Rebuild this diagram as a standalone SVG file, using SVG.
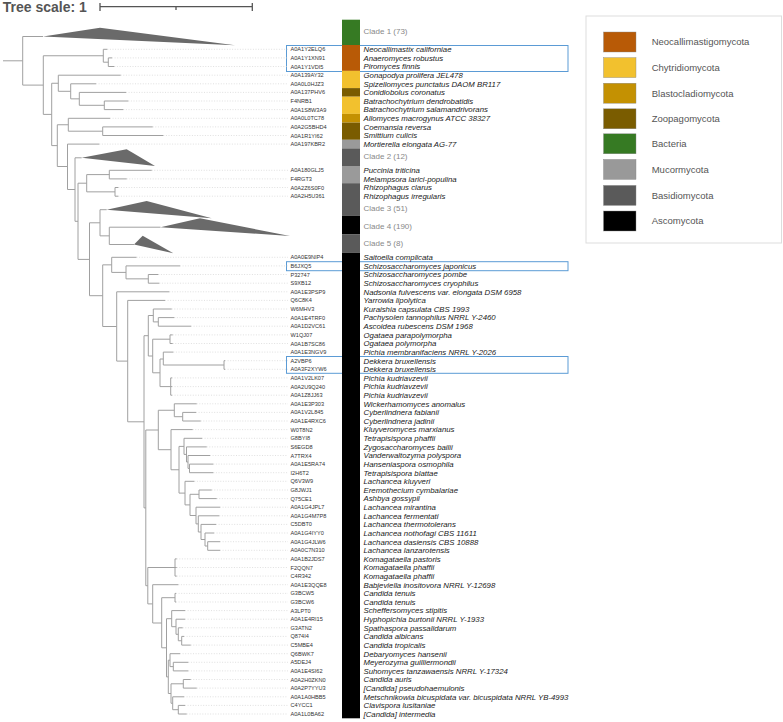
<svg xmlns="http://www.w3.org/2000/svg" width="783" height="722" viewBox="0 0 783 722">
<style>
.t{fill:none;stroke:#a0a0a0;stroke-width:1}
.d{fill:none;stroke:#d2d2d2;stroke-width:0.7;stroke-dasharray:1 1.6}
.tri{fill:#6a6a6a}
.id{font-family:"Liberation Sans",Arial,sans-serif;font-size:5.6px;fill:#333}
.sp{font-family:"Liberation Sans",Arial,sans-serif;font-size:7.8px;font-style:italic;fill:#1a1a1a}
.cl{font-family:"Liberation Sans",Arial,sans-serif;font-size:8px;fill:#888}
.hl{fill:none;stroke:#5b9bd5;stroke-width:1}
.lg{font-family:"Liberation Sans",Arial,sans-serif;font-size:9.5px;fill:#555}
.sw{stroke:#888;stroke-width:0.4}
</style>
<rect width="783" height="722" fill="#fff"/>
<g id="scale">
<text x="2.7" y="11.7" font-family="Liberation Sans,Arial,sans-serif" font-size="14" font-weight="bold" fill="#555">Tree scale: 1</text>
<path d="M100 6.7H252.3M100 3V11M252.3 3V11M176 6.7V10" stroke="#555" stroke-width="1.3" fill="none"/>
</g>
<g id="highlights">
<rect class="hl" x="286.5" y="45.5" width="281.5" height="26"/>
<rect class="hl" x="286.5" y="261.7" width="281.5" height="9"/>
<rect class="hl" x="286.5" y="356.5" width="281.5" height="16.8"/>
</g>
<g id="dotted">
<path class="d" d="M107.3 49.3H288M112 57.9H288M114.3 66.5H288M120.7 75.2H288M96 83.8H288M126 92.4H288M128.3 101H288M123.3 109.6H288M110 118.3H288M152.7 126.9H288M163.3 135.5H288M99.3 144.1H288M151.7 170.3H288M126.7 178.9H288M118.3 187.5H288M118.3 196.2H288
M136.5 257.3H288M180 265.9H288M158.3 274.5H288M159.3 283.2H288M169.3 291.8H288M165 300.4H288M171.7 309H288M174.3 317.6H288M191 326.2H288M172.7 334.9H288M172.7 343.5H288M173.3 352.1H288M225 360.7H288M225 369.3H288M172 377.9H288M172 386.6H288M172 395.2H288M196.7 403.8H288M196 412.4H288M200.7 421H288M192.7 429.6H288M202 438.3H288M206.7 446.9H288M210 455.5H288M213.3 464.1H288M213.3 472.7H288M194.3 481.3H288M211.7 490H288M216.7 498.6H288M220 507.2H288M219.3 515.8H288M216 524.4H288M214 533H288M220 541.7H288M220 550.3H288M176.7 558.9H288M176.7 567.5H288M176.7 576.1H288M178.3 584.7H288M176 593.4H288M176 602H288M185 610.6H288M185 619.2H288M182.7 627.8H288M184 636.4H288M190.7 645.1H288M180 653.7H288M188.3 662.3H288M188.3 670.9H288M190.7 679.5H288M196.7 688.1H288M184 696.8H288M185 705.4H288M186.7 714H288"/>
</g>
<g id="connectors" class="t">
<path id="root" d="M3 60.8H22.7M22.7 36.5V85.1M22.7 36.5H43M22.7 85.1H43.3"/>
<path id="N1" d="M43.3 55.75V114.4M43.3 55.75H103.3M43.3 114.4H51.7"/>
<path id="Nneo" d="M103.3 49.3V62.2M103.3 49.3H107.3M103.3 62.2H108.3"/>
<path id="Nap" d="M108.3 57.9V66.5M108.3 57.9H112M108.3 66.5H114.3"/>
<path id="N2" d="M51.7 83.25V145.6M51.7 83.25H58.3M51.7 145.6H57.3"/>
<path id="N3" d="M58.3 75.2V91.3M58.3 75.2H120.7M58.3 91.3H70.7"/>
<path id="N3b" d="M70.7 83.8V98.85M70.7 83.8H96M70.7 98.85H79.3"/>
<path id="N3c" d="M79.3 92.4V105.3M79.3 92.4H126M79.3 105.3H104.3"/>
<path id="N3d" d="M104.3 101V109.6M104.3 101H128.3M104.3 109.6H123.3"/>
<path id="N4" d="M57.3 124.75V166.5M57.3 124.75H68.3M57.3 166.5H67.5"/>
<path id="N5" d="M68.3 118.3V131.2M68.3 118.3H110M68.3 131.2H102.7"/>
<path id="N5b" d="M102.7 126.9V135.5M102.7 126.9H152.7M102.7 135.5H163.3"/>
<path id="Nm" d="M67.5 144.1V189.5M67.5 144.1H99.3M67.5 189.5H75"/>
<path id="Na" d="M75 157.8V221.3M75 157.8H81.7M75 221.3H78"/>
<path id="Nc" d="M78 183.2V259.4M78 183.2H86.7M78 259.4H89.5"/>
<path id="Nb" d="M86.7 174.6V191.85M86.7 174.6H109.3M86.7 191.85H115"/>
<path id="Np" d="M109.3 170.3V178.9M109.3 170.3H151.7M109.3 178.9H126.7"/>
<path id="Nr" d="M115 187.5V196.2M115 187.5H118.3M115 196.2H118.3"/>
<path id="Nd" d="M89.5 222.8V295.7M89.5 222.8H100M89.5 295.7H102.7"/>
<path id="Ne" d="M100 209.7V235.85M100 209.7H106.7M100 235.85H109.3"/>
<path id="Nf" d="M109.3 227.2V244.5M109.3 227.2H160.5M109.3 244.5H134"/>
<path id="Nt" d="M102.7 264.85V326.5M102.7 264.85H111.7M102.7 326.5H116.7"/>
<path id="Ntap" d="M111.7 257.3V272.4M111.7 257.3H136.5M111.7 272.4H126"/>
<path id="Ns" d="M126 265.9V278.85M126 265.9H180M126 278.85H148.3"/>
<path id="Npc" d="M148.3 274.5V283.2M148.3 274.5H158.3M148.3 283.2H159.3"/>
<path id="Nsac" d="M116.7 291.8V361.1M116.7 291.8H169.3M116.7 361.1H127.7"/>
<path id="Ny" d="M127.7 300.4V421.8M127.7 300.4H165M127.7 421.8H144"/>
<path id="Nbig" d="M144 335.7V507.9M144 335.7H148.3M144 507.9H145.8"/>
<path id="Nu" d="M148.3 315.5V356M148.3 315.5H153.3M148.3 356H152.7"/>
<path id="Nk" d="M153.3 309V321.9M153.3 309H171.7M153.3 321.9H158.3"/>
<path id="Npa" d="M158.3 317.6V326.2M158.3 317.6H174.3M158.3 326.2H191"/>
<path id="No" d="M152.7 339.2V372.8M152.7 339.2H170M152.7 372.8H160"/>
<path id="Nog" d="M170 334.9V343.5M170 334.9H172.7M170 343.5H172.7"/>
<path id="Npd" d="M160 359V386.6M160 359H163.3M160 386.6H170.7"/>
<path id="Npm" d="M163.3 352.1V365M163.3 352.1H173.3M163.3 365H224"/>
<path id="Ndek" d="M224 360.7V369.3M224 360.7H225M224 369.3H225"/>
<path id="Npk" d="M170.7 377.9V395.2M170.7 377.9H172M170.7 386.6H172M170.7 395.2H172"/>
<path id="Nlower" d="M145.8 430V585.7M145.8 430H158.3M145.8 585.7H147.8"/>
<path id="Nsacc" d="M158.3 410.25V449.7M158.3 410.25H174.3M158.3 449.7H171"/>
<path id="Nw" d="M174.3 403.8V416.7M174.3 403.8H196.7M174.3 416.7H182.7"/>
<path id="Ncy" d="M182.7 412.4V421M182.7 412.4H196M182.7 421H200.7"/>
<path id="Nsc" d="M171 429.6V469.75M171 429.6H192.7M171 469.75H179"/>
<path id="Nsc2" d="M179 446.4V493.1M179 446.4H184M179 493.1H185"/>
<path id="Ntz" d="M184 438.3V454.4M184 438.3H202M184 454.4H186.5"/>
<path id="Ntz2" d="M186.5 446.9V462M186.5 446.9H206.7M186.5 462H188"/>
<path id="Ntz3" d="M188 455.5V468.4M188 455.5H210M188 468.4H189.5"/>
<path id="Ntz4" d="M189.5 464.1V472.7M189.5 464.1H213.3M189.5 472.7H213.3"/>
<path id="Nlc" d="M185 481.3V504.9M185 481.3H194.3M185 504.9H190"/>
<path id="Nlc2" d="M190 494.3V515.5M190 494.3H199M190 515.5H196"/>
<path id="Nea" d="M199 490V498.6M199 490H211.7M199 498.6H216.7"/>
<path id="Nl" d="M196 507.2V523.9M196 507.2H220M196 523.9H198.3"/>
<path id="Nl2" d="M198.3 515.8V532M198.3 515.8H219.3M198.3 532H201"/>
<path id="Nl3" d="M201 524.4V539.5M201 524.4H216M201 539.5H205"/>
<path id="Nl4" d="M205 533V546M205 533H214M205 546H207.7"/>
<path id="Nl5" d="M207.7 541.7V550.3M207.7 541.7H220M207.7 550.3H220"/>
<path id="Nx" d="M147.8 567.5V603.9M147.8 567.5H175M147.8 603.9H152.7"/>
<path id="Nkom" d="M175 558.9V576.1M175 558.9H176.7M175 567.5H176.7M175 576.1H176.7"/>
<path id="Nctg" d="M152.7 584.7V623M152.7 584.7H178.3M152.7 623H161.7"/>
<path id="Nct" d="M161.7 597.7V647.8M161.7 597.7H175M161.7 647.8H166.5"/>
<path id="Nten" d="M175 593.4V602M175 593.4H176M175 602H176"/>
<path id="Nct2" d="M166.5 618.7V676.9M166.5 618.7H171.7M166.5 676.9H168.3"/>
<path id="Nsch" d="M171.7 610.6V626.7M171.7 610.6H185M171.7 626.7H176"/>
<path id="Nhy" d="M176 619.2V634.3M176 619.2H185M176 634.3H178.3"/>
<path id="Nsp" d="M178.3 627.8V640.75M178.3 627.8H182.7M178.3 640.75H181.7"/>
<path id="Nca" d="M181.7 636.4V645.1M181.7 636.4H184M181.7 645.1H190.7"/>
<path id="Ndeb" d="M168.3 660.2V693.5M168.3 660.2H170M168.3 693.5H171"/>
<path id="Ndm" d="M170 653.7V666.6M170 653.7H180M170 666.6H173.3"/>
<path id="Nms" d="M173.3 662.3V670.9M173.3 662.3H188.3M173.3 670.9H188.3"/>
<path id="Nmet" d="M171 683.8V703.25M171 683.8H183.3M171 703.25H172.7"/>
<path id="Nau" d="M183.3 679.5V688.1M183.3 679.5H190.7M183.3 688.1H196.7"/>
<path id="Nmc" d="M172.7 696.8V709.7M172.7 696.8H184M172.7 709.7H178.3"/>
<path id="Ncl" d="M178.3 705.4V714M178.3 705.4H185M178.3 714H186.7"/>
</g>
<g id="colorstrip">
<rect x="342" y="19.7" width="18" height="25.3" fill="#367a23"/>
<rect x="342" y="45" width="18" height="25.9" fill="#b85a06"/>
<rect x="342" y="70.9" width="18" height="17.2" fill="#f2c12e"/>
<rect x="342" y="88.1" width="18" height="8.6" fill="#7a5c00"/>
<rect x="342" y="96.7" width="18" height="17.2" fill="#f2c12e"/>
<rect x="342" y="113.9" width="18" height="8.7" fill="#c49102"/>
<rect x="342" y="122.6" width="18" height="17.2" fill="#7a5c00"/>
<rect x="342" y="139.8" width="18" height="8.6" fill="#9a9a9a"/>
<rect x="342" y="148.4" width="18" height="17.6" fill="#5a5a5a"/>
<rect x="342" y="166" width="18" height="17.2" fill="#9a9a9a"/>
<rect x="342" y="183.2" width="18" height="32.5" fill="#5a5a5a"/>
<rect x="342" y="215.7" width="18" height="18.8" fill="#000"/>
<rect x="342" y="234.5" width="18" height="18.3" fill="#5a5a5a"/>
<rect x="342" y="252.8" width="18" height="465.5" fill="#000"/>
</g>
<g id="clade1"><path class="tri" d="M43 36.5L100 27.7L235 45.3Z"/><text class="cl" x="363.5" y="33.8">Clade 1 (73)</text></g>
<g id="clade2"><path class="tri" d="M81.7 157.8L126.7 149.3L155 166Z"/><text class="cl" x="363.5" y="158.8">Clade 2 (12)</text></g>
<g id="clade3"><path class="tri" d="M106.7 209.7L146.7 201L211.7 218.3Z"/><text class="cl" x="363.5" y="210.5">Clade 3 (51)</text></g>
<g id="clade4"><path class="tri" d="M160.5 227.2L200 218.3L290 236Z"/><text class="cl" x="363.5" y="228.5">Clade 4 (190)</text></g>
<g id="clade5"><path class="tri" d="M134 244.5L142.7 235.7L173.3 253.3Z"/><text class="cl" x="363.5" y="245.5">Clade 5 (8)</text></g>
<g id="leaves">
<g id="A0A1Y2ELQ6" transform="translate(0,49.3)"><text class="id" x="290.5" y="2">A0A1Y2ELQ6</text><text class="sp" x="363.5" y="2.8">Neocallimastix californiae</text></g>
<g id="A0A1Y1XN91" transform="translate(0,57.9)"><text class="id" x="290.5" y="2">A0A1Y1XN91</text><text class="sp" x="363.5" y="2.8">Anaeromyces robustus</text></g>
<g id="A0A1Y1VDI5" transform="translate(0,66.5)"><text class="id" x="290.5" y="2">A0A1Y1VDI5</text><text class="sp" x="363.5" y="2.8">Piromyces finnis</text></g>
<g id="A0A139AY32" transform="translate(0,75.2)"><text class="id" x="290.5" y="2">A0A139AY32</text><text class="sp" x="363.5" y="2.8">Gonapodya prolifera JEL478</text></g>
<g id="A0A0L0HJZ3" transform="translate(0,83.8)"><text class="id" x="290.5" y="2">A0A0L0HJZ3</text><text class="sp" x="363.5" y="2.8">Spizellomyces punctatus DAOM BR117</text></g>
<g id="A0A137PHV6" transform="translate(0,92.4)"><text class="id" x="290.5" y="2">A0A137PHV6</text><text class="sp" x="363.5" y="2.8">Conidiobolus coronatus</text></g>
<g id="F4NRB1" transform="translate(0,101)"><text class="id" x="290.5" y="2">F4NRB1</text><text class="sp" x="363.5" y="2.8">Batrachochytrium dendrobatidis</text></g>
<g id="A0A1S8W3A9" transform="translate(0,109.6)"><text class="id" x="290.5" y="2">A0A1S8W3A9</text><text class="sp" x="363.5" y="2.8">Batrachochytrium salamandrivorans</text></g>
<g id="A0A0L0TC78" transform="translate(0,118.3)"><text class="id" x="290.5" y="2">A0A0L0TC78</text><text class="sp" x="363.5" y="2.8">Allomyces macrogynus ATCC 38327</text></g>
<g id="A0A2G5BHD4" transform="translate(0,126.9)"><text class="id" x="290.5" y="2">A0A2G5BHD4</text><text class="sp" x="363.5" y="2.8">Coemansia reversa</text></g>
<g id="A0A1R1YI62" transform="translate(0,135.5)"><text class="id" x="290.5" y="2">A0A1R1YI62</text><text class="sp" x="363.5" y="2.8">Smittium culicis</text></g>
<g id="A0A197KBR2" transform="translate(0,144.1)"><text class="id" x="290.5" y="2">A0A197KBR2</text><text class="sp" x="363.5" y="2.8">Mortierella elongata AG-77</text></g>
<g id="A0A180GLJ5" transform="translate(0,170.3)"><text class="id" x="290.5" y="2">A0A180GLJ5</text><text class="sp" x="363.5" y="2.8">Puccinia triticina</text></g>
<g id="F4RGT3" transform="translate(0,178.9)"><text class="id" x="290.5" y="2">F4RGT3</text><text class="sp" x="363.5" y="2.8">Melampsora larici-populina</text></g>
<g id="A0A2Z6S0F0" transform="translate(0,187.5)"><text class="id" x="290.5" y="2">A0A2Z6S0F0</text><text class="sp" x="363.5" y="2.8">Rhizophagus clarus</text></g>
<g id="A0A2H5U361" transform="translate(0,196.2)"><text class="id" x="290.5" y="2">A0A2H5U361</text><text class="sp" x="363.5" y="2.8">Rhizophagus irregularis</text></g>
<g id="A0A0E9NIP4" transform="translate(0,257.3)"><text class="id" x="290.5" y="2">A0A0E9NIP4</text><text class="sp" x="363.5" y="2.8">Saitoella complicata</text></g>
<g id="B6JXQ5" transform="translate(0,265.9)"><text class="id" x="290.5" y="2">B6JXQ5</text><text class="sp" x="363.5" y="2.8">Schizosaccharomyces japonicus</text></g>
<g id="P32747" transform="translate(0,274.5)"><text class="id" x="290.5" y="2">P32747</text><text class="sp" x="363.5" y="2.8">Schizosaccharomyces pombe</text></g>
<g id="S9XB12" transform="translate(0,283.2)"><text class="id" x="290.5" y="2">S9XB12</text><text class="sp" x="363.5" y="2.8">Schizosaccharomyces cryophilus</text></g>
<g id="A0A1E3PSP9" transform="translate(0,291.8)"><text class="id" x="290.5" y="2">A0A1E3PSP9</text><text class="sp" x="363.5" y="2.8">Nadsonia fulvescens var. elongata DSM 6958</text></g>
<g id="Q6C8K4" transform="translate(0,300.4)"><text class="id" x="290.5" y="2">Q6C8K4</text><text class="sp" x="363.5" y="2.8">Yarrowia lipolytica</text></g>
<g id="W6MHV3" transform="translate(0,309)"><text class="id" x="290.5" y="2">W6MHV3</text><text class="sp" x="363.5" y="2.8">Kuraishia capsulata CBS 1993</text></g>
<g id="A0A1E4TRF0" transform="translate(0,317.6)"><text class="id" x="290.5" y="2">A0A1E4TRF0</text><text class="sp" x="363.5" y="2.8">Pachysolen tannophilus NRRL Y-2460</text></g>
<g id="A0A1D2VC61" transform="translate(0,326.2)"><text class="id" x="290.5" y="2">A0A1D2VC61</text><text class="sp" x="363.5" y="2.8">Ascoidea rubescens DSM 1968</text></g>
<g id="W1QJ07" transform="translate(0,334.9)"><text class="id" x="290.5" y="2">W1QJ07</text><text class="sp" x="363.5" y="2.8">Ogataea parapolymorpha</text></g>
<g id="A0A1B7SC86" transform="translate(0,343.5)"><text class="id" x="290.5" y="2">A0A1B7SC86</text><text class="sp" x="363.5" y="2.8">Ogataea polymorpha</text></g>
<g id="A0A1E3NGV9" transform="translate(0,352.1)"><text class="id" x="290.5" y="2">A0A1E3NGV9</text><text class="sp" x="363.5" y="2.8">Pichia membranifaciens NRRL Y-2026</text></g>
<g id="A2VBP6" transform="translate(0,360.7)"><text class="id" x="290.5" y="2">A2VBP6</text><text class="sp" x="363.5" y="2.8">Dekkera bruxellensis</text></g>
<g id="A0A3F2XYW6" transform="translate(0,369.3)"><text class="id" x="290.5" y="2">A0A3F2XYW6</text><text class="sp" x="363.5" y="2.8">Dekkera bruxellensis</text></g>
<g id="A0A1V2LK07" transform="translate(0,377.9)"><text class="id" x="290.5" y="2">A0A1V2LK07</text><text class="sp" x="363.5" y="2.8">Pichia kudriavzevii</text></g>
<g id="A0A2U9Q240" transform="translate(0,386.6)"><text class="id" x="290.5" y="2">A0A2U9Q240</text><text class="sp" x="363.5" y="2.8">Pichia kudriavzevii</text></g>
<g id="A0A1Z8JJ63" transform="translate(0,395.2)"><text class="id" x="290.5" y="2">A0A1Z8JJ63</text><text class="sp" x="363.5" y="2.8">Pichia kudriavzevii</text></g>
<g id="A0A1E3P303" transform="translate(0,403.8)"><text class="id" x="290.5" y="2">A0A1E3P303</text><text class="sp" x="363.5" y="2.8">Wickerhamomyces anomalus</text></g>
<g id="A0A1V2L845" transform="translate(0,412.4)"><text class="id" x="290.5" y="2">A0A1V2L845</text><text class="sp" x="363.5" y="2.8">Cyberlindnera fabianii</text></g>
<g id="A0A1E4RXC6" transform="translate(0,421)"><text class="id" x="290.5" y="2">A0A1E4RXC6</text><text class="sp" x="363.5" y="2.8">Cyberlindnera jadinii</text></g>
<g id="W0T8N2" transform="translate(0,429.6)"><text class="id" x="290.5" y="2">W0T8N2</text><text class="sp" x="363.5" y="2.8">Kluyveromyces marxianus</text></g>
<g id="G8BYI8" transform="translate(0,438.3)"><text class="id" x="290.5" y="2">G8BYI8</text><text class="sp" x="363.5" y="2.8">Tetrapisispora phaffii</text></g>
<g id="S6EGD8" transform="translate(0,446.9)"><text class="id" x="290.5" y="2">S6EGD8</text><text class="sp" x="363.5" y="2.8">Zygosaccharomyces bailii</text></g>
<g id="A7TRX4" transform="translate(0,455.5)"><text class="id" x="290.5" y="2">A7TRX4</text><text class="sp" x="363.5" y="2.8">Vanderwaltozyma polyspora</text></g>
<g id="A0A1E5RA74" transform="translate(0,464.1)"><text class="id" x="290.5" y="2">A0A1E5RA74</text><text class="sp" x="363.5" y="2.8">Hanseniaspora osmophila</text></g>
<g id="I2H6T2" transform="translate(0,472.7)"><text class="id" x="290.5" y="2">I2H6T2</text><text class="sp" x="363.5" y="2.8">Tetrapisispora blattae</text></g>
<g id="Q6V3W9" transform="translate(0,481.3)"><text class="id" x="290.5" y="2">Q6V3W9</text><text class="sp" x="363.5" y="2.8">Lachancea kluyveri</text></g>
<g id="G8JWJ1" transform="translate(0,490)"><text class="id" x="290.5" y="2">G8JWJ1</text><text class="sp" x="363.5" y="2.8">Eremothecium cymbalariae</text></g>
<g id="Q75CE1" transform="translate(0,498.6)"><text class="id" x="290.5" y="2">Q75CE1</text><text class="sp" x="363.5" y="2.8">Ashbya gossypii</text></g>
<g id="A0A1G4JPL7" transform="translate(0,507.2)"><text class="id" x="290.5" y="2">A0A1G4JPL7</text><text class="sp" x="363.5" y="2.8">Lachancea mirantina</text></g>
<g id="A0A1G4M7P8" transform="translate(0,515.8)"><text class="id" x="290.5" y="2">A0A1G4M7P8</text><text class="sp" x="363.5" y="2.8">Lachancea fermentati</text></g>
<g id="C5DBT0" transform="translate(0,524.4)"><text class="id" x="290.5" y="2">C5DBT0</text><text class="sp" x="363.5" y="2.8">Lachancea thermotolerans</text></g>
<g id="A0A1G4IYY0" transform="translate(0,533)"><text class="id" x="290.5" y="2">A0A1G4IYY0</text><text class="sp" x="363.5" y="2.8">Lachancea nothofagi CBS 11611</text></g>
<g id="A0A1G4JLW6" transform="translate(0,541.7)"><text class="id" x="290.5" y="2">A0A1G4JLW6</text><text class="sp" x="363.5" y="2.8">Lachancea dasiensis CBS 10888</text></g>
<g id="A0A0C7N310" transform="translate(0,550.3)"><text class="id" x="290.5" y="2">A0A0C7N310</text><text class="sp" x="363.5" y="2.8">Lachancea lanzarotensis</text></g>
<g id="A0A1B2JDS7" transform="translate(0,558.9)"><text class="id" x="290.5" y="2">A0A1B2JDS7</text><text class="sp" x="363.5" y="2.8">Komagataella pastoris</text></g>
<g id="F2QQN7" transform="translate(0,567.5)"><text class="id" x="290.5" y="2">F2QQN7</text><text class="sp" x="363.5" y="2.8">Komagataella phaffii</text></g>
<g id="C4R342" transform="translate(0,576.1)"><text class="id" x="290.5" y="2">C4R342</text><text class="sp" x="363.5" y="2.8">Komagataella phaffii</text></g>
<g id="A0A1E3QQE8" transform="translate(0,584.7)"><text class="id" x="290.5" y="2">A0A1E3QQE8</text><text class="sp" x="363.5" y="2.8">Babjeviella inositovora NRRL Y-12698</text></g>
<g id="G3BCW5" transform="translate(0,593.4)"><text class="id" x="290.5" y="2">G3BCW5</text><text class="sp" x="363.5" y="2.8">Candida tenuis</text></g>
<g id="G3BCW6" transform="translate(0,602)"><text class="id" x="290.5" y="2">G3BCW6</text><text class="sp" x="363.5" y="2.8">Candida tenuis</text></g>
<g id="A3LPT0" transform="translate(0,610.6)"><text class="id" x="290.5" y="2">A3LPT0</text><text class="sp" x="363.5" y="2.8">Scheffersomyces stipitis</text></g>
<g id="A0A1E4RI15" transform="translate(0,619.2)"><text class="id" x="290.5" y="2">A0A1E4RI15</text><text class="sp" x="363.5" y="2.8">Hyphopichia burtonii NRRL Y-1933</text></g>
<g id="G3ATN2" transform="translate(0,627.8)"><text class="id" x="290.5" y="2">G3ATN2</text><text class="sp" x="363.5" y="2.8">Spathaspora passalidarum</text></g>
<g id="Q874I4" transform="translate(0,636.4)"><text class="id" x="290.5" y="2">Q874I4</text><text class="sp" x="363.5" y="2.8">Candida albicans</text></g>
<g id="C5MBE4" transform="translate(0,645.1)"><text class="id" x="290.5" y="2">C5MBE4</text><text class="sp" x="363.5" y="2.8">Candida tropicalis</text></g>
<g id="Q6BWK7" transform="translate(0,653.7)"><text class="id" x="290.5" y="2">Q6BWK7</text><text class="sp" x="363.5" y="2.8">Debaryomyces hansenii</text></g>
<g id="A5DEJ4" transform="translate(0,662.3)"><text class="id" x="290.5" y="2">A5DEJ4</text><text class="sp" x="363.5" y="2.8">Meyerozyma guilliermondii</text></g>
<g id="A0A1E4SI62" transform="translate(0,670.9)"><text class="id" x="290.5" y="2">A0A1E4SI62</text><text class="sp" x="363.5" y="2.8">Suhomyces tanzawaensis NRRL Y-17324</text></g>
<g id="A0A2H0ZKN0" transform="translate(0,679.5)"><text class="id" x="290.5" y="2">A0A2H0ZKN0</text><text class="sp" x="363.5" y="2.8">Candida auris</text></g>
<g id="A0A2P7YYU3" transform="translate(0,688.1)"><text class="id" x="290.5" y="2">A0A2P7YYU3</text><text class="sp" x="363.5" y="2.8">[Candida] pseudohaemulonis</text></g>
<g id="A0A1A0HBB5" transform="translate(0,696.8)"><text class="id" x="290.5" y="2">A0A1A0HBB5</text><text class="sp" x="363.5" y="2.8">Metschnikowia bicuspidata var. bicuspidata NRRL YB-4993</text></g>
<g id="C4YCC1" transform="translate(0,705.4)"><text class="id" x="290.5" y="2">C4YCC1</text><text class="sp" x="363.5" y="2.8">Clavispora lusitaniae</text></g>
<g id="A0A1L0BA62" transform="translate(0,714)"><text class="id" x="290.5" y="2">A0A1L0BA62</text><text class="sp" x="363.5" y="2.8">[Candida] intermedia</text></g>
</g>
<g id="legend">
<rect x="586" y="16" width="195.5" height="227" fill="#fff" stroke="#ddd" stroke-width="1"/>
<rect class="sw" x="603.5" y="32" width="32.5" height="20" fill="#b85a06"/><text class="lg" x="651.7" y="45.3">Neocallimastigomycota</text>
<rect class="sw" x="603.5" y="57.6" width="32.5" height="20" fill="#f2c12e"/><text class="lg" x="651.7" y="70.9">Chytridiomycota</text>
<rect class="sw" x="603.5" y="83.2" width="32.5" height="20" fill="#c49102"/><text class="lg" x="651.7" y="96.5">Blastocladiomycota</text>
<rect class="sw" x="603.5" y="108.8" width="32.5" height="20" fill="#7a5c00"/><text class="lg" x="651.7" y="122.1">Zoopagomycota</text>
<rect class="sw" x="603.5" y="133.8" width="32.5" height="20" fill="#367a23"/><text class="lg" x="651.7" y="147.1">Bacteria</text>
<rect class="sw" x="603.5" y="159.4" width="32.5" height="20" fill="#999"/><text class="lg" x="651.7" y="172.7">Mucormycota</text>
<rect class="sw" x="603.5" y="185.4" width="32.5" height="20" fill="#5a5a5a"/><text class="lg" x="651.7" y="198.7">Basidiomycota</text>
<rect class="sw" x="603.5" y="211" width="32.5" height="20" fill="#000"/><text class="lg" x="651.7" y="224.3">Ascomycota</text>
</g>
</svg>
